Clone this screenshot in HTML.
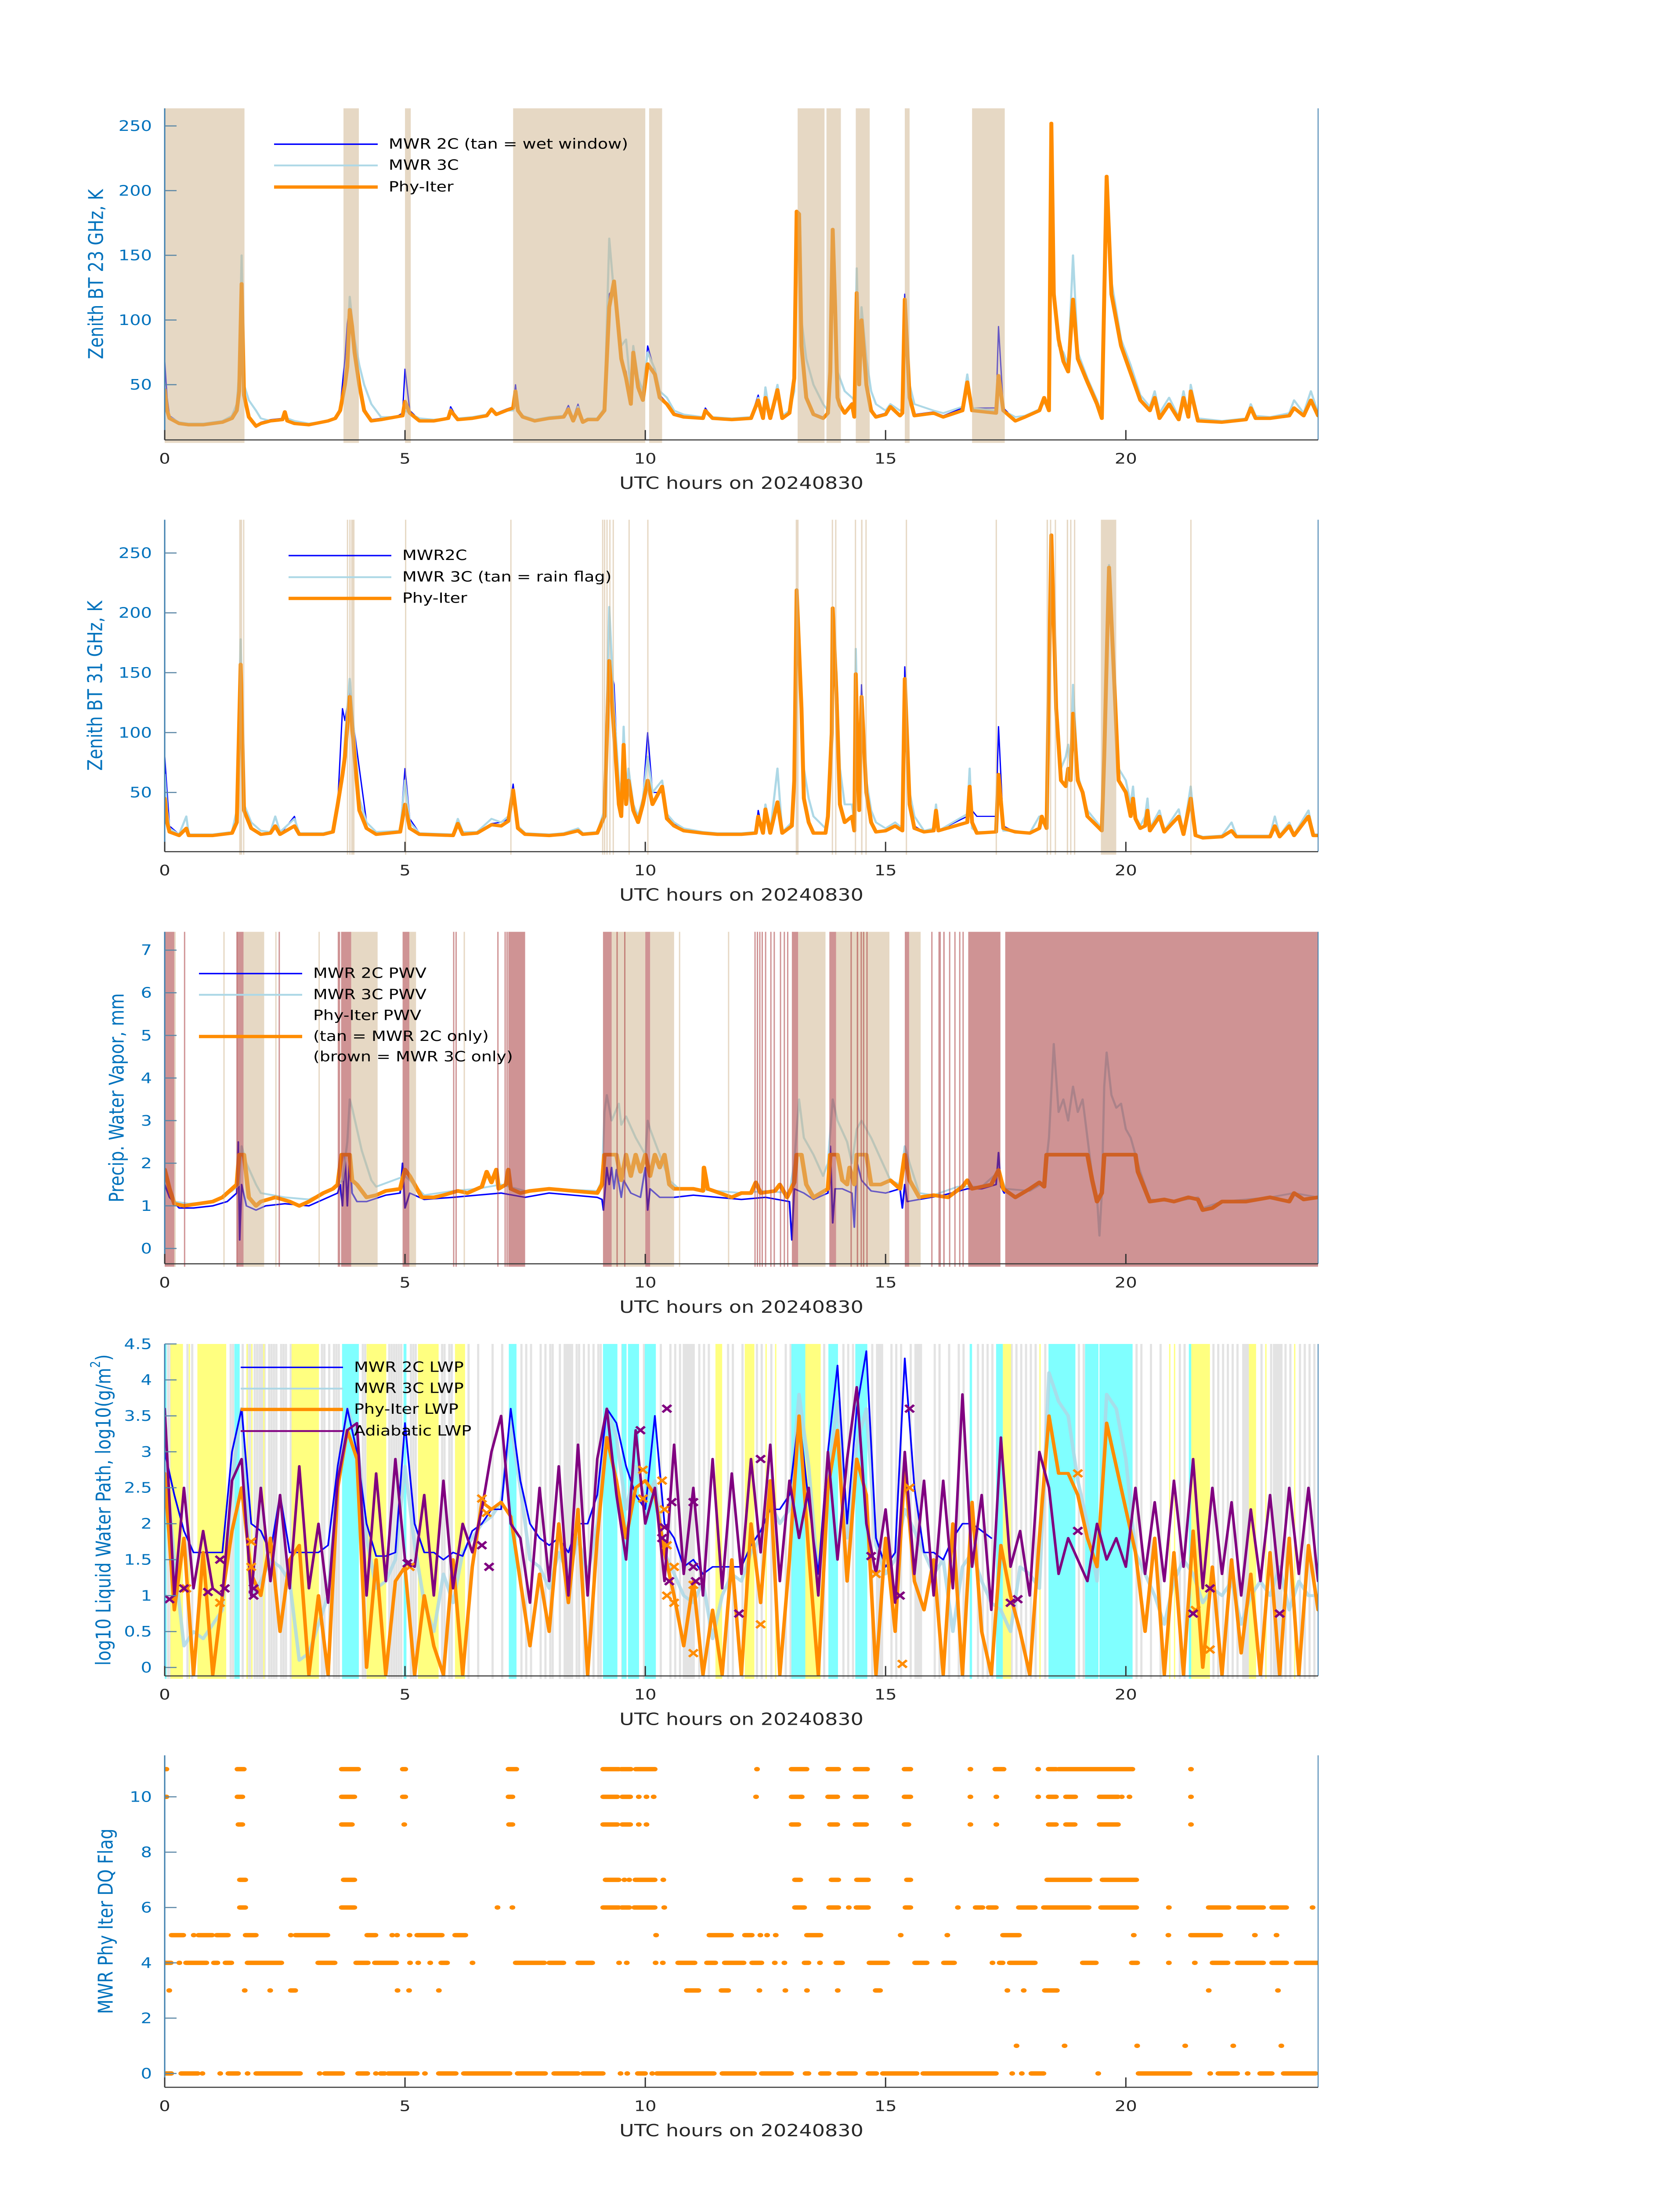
<!DOCTYPE html>
<html><head><meta charset="utf-8"><style>
html,body{margin:0;padding:0;background:#fff;overflow:hidden}
svg{display:block;width:100vw;height:100vh;font-family:"DejaVu Sans","Liberation Sans",sans-serif}
</style></head><body>
<svg id="fig" xmlns="http://www.w3.org/2000/svg" viewBox="0 0 3825 6000" preserveAspectRatio="none">
<rect x="0" y="0" width="3825" height="6000" fill="#fff"/>
</svg>
<script>
// ---------- Plot 1: 23 GHz ----------
const p1Time=[0,0.05,0.1,0.3,0.5,0.8,1.0,1.2,1.4,1.5, 1.55,1.6,1.65,1.75,1.9,2.0,2.2,2.45,2.5,2.55, 2.7,3.0,3.4,3.55,3.65,3.75,3.8,3.85,3.9,3.95, 4.05,4.15,4.3,4.5,4.8,4.95,5.0,5.1,5.3,5.6, 5.9,5.95,6.1,6.4,6.7,6.8,6.9,7.1,7.25,7.3, 7.35,7.45,7.7,8.0,8.3,8.4,8.5,8.6,8.7,8.8, 9.0,9.15,9.25,9.35,9.45,9.5,9.6,9.7,9.75,9.85, 9.95,10.05,10.2,10.3,10.45,10.6,10.8,11.2,11.25,11.4, 11.8,12.2,12.35,12.45,12.5,12.6,12.75,12.85,13.0,13.1, 13.15,13.2,13.25,13.35,13.5,13.7,13.8,13.85,13.9,13.95, 14.0,14.05,14.15,14.3,14.35,14.4,14.45,14.5,14.6,14.7, 14.8,15.0,15.1,15.3,15.35,15.4,15.5,15.6,16.0,16.2, 16.6,16.7,16.8,17.3,17.35,17.45,17.7,17.9,18.2,18.3, 18.4,18.45,18.5,18.6,18.7,18.8,18.9,19.0,19.2,19.4, 19.5,19.6,19.7,19.9,20.1,20.3,20.5,20.6,20.7,20.9, 21.1,21.2,21.3,21.35,21.5,22.0,22.5,22.6,22.7,23.0, 23.4,23.5,23.7,23.85,24];
const p1Phy=[46,30,24,20,19,19,20,21,24,30, 45,128,42,25,18,20,22,23,29,22, 20,19,22,24,30,50,64,108,95,75, 50,30,22,23,25,26,37,28,22,22, 24,30,23,24,26,31,27,30,32,45, 30,25,22,24,25,31,22,31,21,23, 23,30,110,130,90,70,55,35,75,48, 38,66,58,40,35,27,25,24,30,24, 23,24,38,24,40,24,46,24,28,55, 184,182,80,40,27,24,28,60,170,110, 40,34,28,35,25,121,50,100,50,30, 25,27,33,26,28,116,40,26,28,25, 30,52,30,28,57,30,22,25,30,40, 30,252,120,85,68,60,116,70,52,35, 24,211,120,80,59,38,30,40,24,35, 23,40,25,45,22,21,23,32,24,24, 26,32,26,38,26];
const p1Mwr3c=[40,30,25,21,20,20,21,22,26,35, 60,150,50,38,30,24,22,23,28,24, 22,20,22,24,30,48,75,118,100,85, 65,50,35,25,25,26,30,28,24,23, 24,31,24,25,27,32,28,30,30,38, 30,26,23,25,26,32,23,33,22,24, 24,32,163,120,95,80,85,45,80,55, 45,75,62,45,40,30,27,25,29,25, 24,25,40,26,48,25,50,26,30,45, 170,165,100,70,50,35,30,60,150,130, 60,55,45,40,38,140,60,110,70,45, 35,30,35,30,32,110,50,35,30,28, 33,58,32,30,50,30,25,26,31,36, 32,240,130,80,75,65,150,75,55,38, 26,205,130,85,65,42,33,45,28,40, 25,45,27,50,24,22,24,35,26,25, 28,38,28,45,28];
const p1Mwr2c=[68,40,26,21,20,20,21,22,25,31, 46,120,42,25,17,21,23,24,28,23, 21,20,22,25,32,70,97,112,100,80, 50,32,23,24,25,28,62,30,23,22, 25,33,23,25,27,32,28,31,33,50, 32,26,23,25,26,34,24,35,22,24, 24,32,120,125,100,70,60,40,70,45, 40,80,60,42,36,28,26,25,32,24, 23,25,42,25,40,25,50,25,30,55, 180,180,82,42,28,25,29,55,160,105, 42,36,29,36,26,120,55,95,52,32, 26,28,34,27,29,120,42,27,29,26, 32,55,32,32,95,32,23,25,30,40, 30,250,120,85,68,60,115,70,52,35, 24,210,120,80,59,38,30,40,24,35, 23,40,25,45,22,21,23,32,24,24, 26,32,26,38,26];
const p1WetWindow=[[0,1.66],[3.72,4.04],[5.0,5.12],[7.25,10.0],[10.08,10.35],[13.17,13.73],[13.77,14.07],[14.38,14.67],[15.4,15.5],[16.8,17.48]];
const p1Ticks=[50,100,150,200,250];

// ---------- Plot 2: 31 GHz ----------
const p2Time=[0,0.05,0.1,0.3,0.45,0.5,1.0,1.4,1.5,1.58, 1.65,1.8,2.0,2.2,2.3,2.4,2.7,2.8,3.3,3.5, 3.6,3.7,3.75,3.85,3.95,4.05,4.2,4.4,4.9,5.0, 5.1,5.3,6.0,6.1,6.2,6.5,6.8,7.0,7.15,7.25, 7.35,7.5,8.0,8.3,8.6,8.7,9.0,9.15,9.25,9.35, 9.45,9.5,9.55,9.6,9.65,9.75,9.85,9.95,10.05,10.15, 10.35,10.45,10.6,10.8,11.2,11.5,12.0,12.3,12.35,12.45, 12.5,12.6,12.75,12.85,13.05,13.1,13.15,13.25,13.3,13.4, 13.5,13.75,13.8,13.88,13.9,13.98,14.05,14.15,14.3,14.35, 14.38,14.45,14.5,14.6,14.7,14.8,15.0,15.2,15.35,15.4, 15.5,15.6,15.8,16.0,16.05,16.1,16.7,16.75,16.8,16.9, 17.3,17.35,17.45,17.7,18.0,18.2,18.25,18.35,18.45,18.55, 18.65,18.75,18.8,18.85,18.9,19.0,19.1,19.2,19.4,19.5, 19.55,19.65,19.75,19.85,20.0,20.1,20.15,20.2,20.3,20.4, 20.45,20.5,20.7,20.8,21.1,21.2,21.35,21.45,21.6,22.0, 22.2,22.3,23.0,23.1,23.2,23.4,23.5,23.8,23.9,24];
const p2Phy=[45,25,17,14,20,14,14,16,25,157, 35,20,15,16,22,15,22,15,15,17, 40,65,80,130,80,35,20,15,17,40, 20,15,14,24,15,16,23,22,26,52, 20,15,14,15,18,15,16,30,160,100, 40,30,90,40,60,35,25,40,60,40, 55,28,22,18,16,15,15,16,30,16, 36,16,42,16,22,60,219,120,45,25, 16,16,30,100,204,130,40,25,30,18, 149,35,130,50,25,17,18,22,18,145, 40,20,17,18,35,18,25,55,25,16, 17,65,20,17,16,20,30,20,265,120, 60,55,70,60,116,60,50,30,22,18, 80,238,150,60,50,30,45,28,20,22, 35,18,30,17,30,15,45,14,12,13, 18,13,13,22,13,22,14,30,14,14];
const p2Mwr3c=[65,35,20,15,30,15,15,17,35,178, 40,25,18,17,30,17,28,16,16,18, 38,60,95,145,95,45,25,17,18,60, 25,16,15,28,17,17,28,25,30,48, 22,16,15,16,20,16,17,35,205,120, 60,45,105,50,70,40,30,45,80,50, 60,32,25,20,17,16,16,17,30,17, 40,17,70,17,25,70,220,130,70,45, 30,20,35,120,180,150,70,40,40,25, 170,45,115,60,35,25,20,25,20,135, 50,30,18,20,40,18,32,70,20,17, 17,55,18,18,16,30,25,22,265,130, 70,80,90,70,140,65,50,35,25,20, 90,240,160,70,60,40,55,30,22,30, 45,20,35,18,36,16,55,15,13,14, 25,14,14,30,14,25,15,35,15,15];
const p2Mwr2c=[80,50,22,15,18,15,15,16,26,150, 35,20,15,16,22,15,30,15,15,17, 40,120,110,135,100,70,25,17,17,70, 28,16,15,25,16,17,24,25,28,57, 22,16,15,16,19,16,17,30,160,140, 45,35,75,45,65,40,28,45,100,50, 50,30,24,19,17,16,16,17,35,17, 38,16,42,16,22,60,215,120,45,25, 16,16,30,100,200,130,40,25,30,18, 150,35,140,52,27,18,18,22,18,155, 45,22,17,18,40,18,30,60,35,30, 30,105,22,17,16,20,30,20,265,120, 60,55,70,60,116,60,50,30,22,18, 80,238,150,60,50,30,45,28,20,22, 35,18,30,17,30,15,45,14,12,13, 18,13,13,22,13,22,14,30,14,14];
const p2RainFlag=[[1.55,1.61],[1.63,1.64],[3.79,3.8],[3.84,3.85],[3.88,3.95],[5.0,5.01],[7.19,7.2],[9.1,9.12],[9.14,9.16],[9.19,9.2],[9.25,9.27],[9.32,9.34],[9.65,9.66],[10.04,10.06],[13.13,13.19],[13.88,13.9],[13.95,13.97],[14.36,14.38],[14.49,14.52],[14.58,14.6],[15.42,15.44],[17.29,17.3],[18.35,18.38],[18.42,18.44],[18.52,18.54],[18.77,18.8],[18.84,18.86],[18.92,18.94],[19.48,19.8],[21.34,21.36]];
const p2Ticks=[50,100,150,200,250];

// ---------- Plot 3: PWV ----------
const p3Time=[0,0.1,0.2,0.4,0.7,1.0,1.2,1.4,1.5,1.55, 1.65,1.75,1.9,2.0,2.3,2.6,2.8,3.0,3.3,3.5, 3.6,3.68,3.85,3.9,4.0,4.2,4.4,4.6,4.9,5.0, 5.1,5.2,5.35,5.6,5.8,6.1,6.3,6.6,6.7,6.8, 6.9,6.95,7.1,7.15,7.2,7.4,7.6,8.0,8.5,9.0, 9.1,9.15,9.4,9.5,9.6,9.7,9.8,9.9,10.0,10.1, 10.2,10.3,10.4,10.5,10.6,11.0,11.2,11.22,11.3,11.8, 12.0,12.2,12.3,12.4,12.7,12.8,12.95,13.1,13.15,13.25, 13.35,13.5,13.8,13.85,14.0,14.1,14.2,14.25,14.35,14.4, 14.6,14.7,14.9,15.1,15.3,15.4,15.5,15.7,16.0,16.3, 16.6,16.7,16.8,17.0,17.2,17.35,17.45,17.7,18.0,18.2, 18.3,18.35,19.2,19.3,19.4,19.5,19.55,20.2,20.25,20.5, 20.8,21.0,21.3,21.5,21.6,21.8,22.0,22.5,23.0,23.4, 23.5,23.7,24];
const p3Phy=[1.85,1.4,1.05,1.0,1.05,1.1,1.2,1.4,1.5,2.2, 2.2,1.2,1.0,1.1,1.2,1.1,1.0,1.1,1.3,1.4, 1.5,2.2,2.2,1.6,1.5,1.2,1.25,1.35,1.4,1.85, 1.7,1.5,1.2,1.2,1.25,1.35,1.3,1.45,1.8,1.55, 1.85,1.4,1.5,1.85,1.4,1.3,1.35,1.4,1.35,1.3, 1.5,2.2,2.2,1.6,2.2,1.7,2.2,1.8,2.2,1.7, 2.2,1.9,2.2,1.5,1.4,1.4,1.35,1.9,1.4,1.2, 1.3,1.3,1.55,1.3,1.35,1.5,1.2,1.55,2.2,2.2, 1.5,1.2,1.4,2.2,2.2,1.6,1.5,1.9,1.5,2.2, 2.2,1.5,1.5,1.6,1.4,2.2,1.6,1.2,1.25,1.2, 1.45,1.6,1.4,1.45,1.5,1.84,1.4,1.2,1.4,1.55, 1.45,2.2,2.2,1.6,1.1,1.3,2.2,2.2,1.8,1.1, 1.15,1.1,1.2,1.15,0.9,0.95,1.1,1.1,1.2,1.1, 1.3,1.15,1.2];
const p3Time3c=[0,0.1,0.2,0.5,1.0,1.4,1.55,1.6,1.7,1.9, 2.0,2.5,3.0,3.5,3.7,3.8,3.85,3.9,4.1,4.3, 4.4,5.0,5.1,5.4,6.0,6.5,7.0,7.5,8.0,9.0, 9.1,9.15,9.2,9.3,9.45,9.5,9.6,9.8,10.0,10.05, 10.1,10.3,10.5,10.7,11.0,12.0,12.5,13.0,13.1,13.2, 13.3,13.5,13.7,13.8,13.9,14.0,14.2,14.3,14.4,14.5, 14.7,14.9,15.1,15.3,15.4,15.5,15.7,16.0,16.5,17.0, 17.35,17.5,18.0,18.3,18.4,18.5,18.6,18.7,18.8,18.9, 19.0,19.1,19.2,19.3,19.4,19.45,19.5,19.55,19.6,19.7, 19.8,19.9,20.0,20.1,20.2,20.3,20.5,21.0,21.5,21.6, 22.0,23.0,23.5,24];
const p3Mwr3c=[1.7,1.4,1.1,1.05,1.1,1.35,1.5,2.4,2.0,1.5, 1.3,1.2,1.15,1.4,1.6,2.5,3.5,3.3,2.3,1.6, 1.45,1.7,1.6,1.25,1.35,1.4,1.5,1.35,1.4,1.35, 1.6,3.2,3.6,3.0,3.4,2.9,3.1,2.6,2.2,3.0, 2.8,2.2,1.6,1.4,1.4,1.3,1.35,1.3,2.0,3.5, 2.6,2.2,1.7,2.0,3.5,3.0,2.5,2.0,2.8,3.0, 2.6,2.1,1.6,1.5,2.4,2.0,1.3,1.25,1.45,1.45, 1.8,1.4,1.35,1.55,2.6,4.8,3.2,3.5,3.0,3.8, 3.2,3.5,2.6,1.7,1.2,0.3,1.3,3.8,4.6,3.6, 3.3,3.4,2.8,2.6,2.2,1.8,1.15,1.1,1.2,0.95, 1.1,1.2,1.3,1.2];
const p3Time2c=[0,0.1,0.3,0.6,1.0,1.3,1.5,1.53,1.56,1.6, 1.7,1.9,2.1,2.5,3.0,3.4,3.6,3.65,3.7,3.75, 3.8,3.85,3.9,4.0,4.2,4.6,4.9,4.95,5.0,5.1, 5.4,6.0,6.5,7.0,7.5,8.0,8.5,9.0,9.1,9.13, 9.2,9.25,9.3,9.35,9.4,9.5,9.55,9.7,9.9,10.0, 10.05,10.1,10.3,10.6,11.0,12.0,12.5,13.0,13.05,13.1, 13.3,13.5,13.8,13.85,13.9,13.95,14.1,14.3,14.35,14.4, 14.5,14.7,15.0,15.3,15.35,15.4,15.45,15.7,16.2,16.7, 17.0,17.3,17.35,17.4,17.47];
const p3Mwr2c=[1.5,1.2,0.95,0.95,1.0,1.1,1.3,2.5,0.2,1.5, 1.0,0.9,1.0,1.05,1.0,1.2,1.3,1.5,1.0,2.2, 1.0,2.2,1.3,1.1,1.1,1.25,1.3,2.0,0.95,1.3, 1.15,1.2,1.25,1.3,1.2,1.3,1.25,1.2,1.15,0.9, 1.9,1.5,1.9,1.4,1.85,1.2,1.6,1.3,1.2,1.9, 0.9,1.4,1.2,1.2,1.25,1.15,1.2,1.1,0.2,1.4, 1.3,1.15,1.3,2.4,0.6,1.4,1.4,1.3,0.5,2.05, 1.6,1.35,1.3,1.4,0.95,1.5,1.1,1.15,1.25,1.4, 1.4,1.5,2.25,1.45,1.3];
const p3TanOnly2c=[[0.2,0.23],[1.22,1.23],[1.64,2.07],[2.3,2.31],[3.2,3.21],[3.88,4.43],[5.09,5.23],[6.22,6.23],[9.3,10.0],[10.1,10.6],[10.7,10.71],[11.72,11.73],[13.18,13.75],[13.97,15.08],[15.49,15.73]];
const p3BrownOnly3c=[[0,0.2],[0.4,0.41],[1.49,1.5],[1.51,1.64],[2.37,2.38],[3.6,3.65],[3.67,3.88],[4.95,5.09],[6.0,6.01],[6.05,6.06],[6.92,6.93],[7.07,7.08],[7.11,7.14],[7.15,7.5],[9.12,9.3],[9.4,9.42],[9.56,9.58],[10.0,10.1],[12.27,12.28],[12.32,12.33],[12.37,12.38],[12.42,12.43],[12.49,12.5],[12.6,12.61],[12.67,12.68],[12.8,12.81],[12.88,12.89],[12.95,12.96],[13.05,13.18],[13.83,13.97],[14.27,14.28],[14.4,14.43],[14.48,14.49],[14.53,14.54],[14.6,14.61],[15.4,15.49],[15.95,15.96],[16.1,16.15],[16.2,16.23],[16.32,16.33],[16.43,16.44],[16.53,16.54],[16.6,16.61],[16.72,17.39],[17.49,24]];
const p3Ticks=[0,1,2,3,4,5,6,7];

// ---------- Plot 4: LWP ----------
const p4Time=[0,0.2,0.4,0.6,0.8,1.0,1.2,1.4,1.6,1.8, 2.0,2.2,2.4,2.6,2.8,3.0,3.2,3.4,3.6,3.8, 4.0,4.2,4.4,4.6,4.8,5.0,5.2,5.4,5.6,5.8, 6.0,6.2,6.4,6.6,6.8,7.0,7.2,7.4,7.6,7.8, 8.0,8.2,8.4,8.6,8.8,9.0,9.2,9.4,9.6,9.8, 10.0,10.2,10.4,10.6,10.8,11.0,11.2,11.4,11.6,11.8, 12.0,12.2,12.4,12.6,12.8,13.0,13.2,13.4,13.6,13.8, 14.0,14.2,14.4,14.6,14.8,15.0,15.2,15.4,15.6,15.8, 16.0,16.2,16.4,16.6,16.8,17.0,17.2,17.4,17.6,17.8, 18.0,18.2,18.4,18.6,18.8,19.0,19.2,19.4,19.6,19.8, 20.0,20.2,20.4,20.6,20.8,21.0,21.2,21.4,21.6,21.8, 22.0,22.2,22.4,22.6,22.8,23.0,23.2,23.4,23.6,23.8, 24];
const p4Adiabatic=[3.6,1.0,2.5,1.1,1.9,1.1,1.0,2.6,2.9,1.0, 2.5,1.2,2.4,1.1,2.8,1.1,2.0,0.9,2.6,3.3, 3.4,1.0,2.7,1.2,2.9,1.5,1.4,2.4,1.0,2.6, 1.1,2.0,1.6,2.2,3.0,3.5,2.0,1.8,0.9,2.5, 1.2,2.8,1.0,3.1,1.0,2.9,3.6,2.4,1.5,3.3, 2.0,2.5,1.2,3.1,1.3,2.5,1.0,2.9,1.1,2.7, 1.3,2.9,1.6,3.1,1.2,2.6,1.8,2.5,1.0,3.0, 1.5,2.9,3.9,2.0,1.3,2.2,0.9,3.0,1.3,2.6, 1.0,2.6,1.1,3.8,1.4,2.4,0.8,3.2,1.4,1.9, 1.0,3.0,2.5,1.3,1.8,1.5,1.2,2.0,1.5,1.8, 1.4,2.5,1.3,2.3,1.2,2.6,1.4,2.9,1.1,2.5, 1.3,2.3,1.0,2.2,1.2,2.4,1.1,2.5,1.3,2.5, 1.2];
const p4Phy=[2.7,0.8,1.8,-0.1,1.6,-0.1,1.0,1.9,2.5,1.3, 1.0,1.8,0.5,1.5,1.7,-0.1,1.0,-0.1,2.5,3.3, 2.9,0.0,1.5,-0.1,1.2,1.4,-0.1,1.0,0.3,-0.1, 1.5,-0.1,1.4,2.3,2.2,2.3,2.1,1.2,0.3,1.3, 0.5,2.0,0.9,2.2,-0.1,1.8,3.2,2.6,1.8,2.5, 2.6,2.4,1.6,1.0,0.3,1.2,-0.1,0.8,-0.1,1.5, -0.1,2.0,0.9,2.6,-0.1,1.5,3.5,1.6,-0.1,2.5, 3.3,1.2,2.9,2.4,-0.1,1.8,0.5,2.8,1.2,0.8, 1.5,-0.1,2.0,-0.1,2.3,0.5,-0.1,1.7,1.0,0.5, -0.1,1.8,3.5,2.7,2.7,2.4,1.8,1.4,3.4,2.8, 2.2,1.6,0.5,1.8,-0.1,1.6,-0.1,1.9,0.0,1.4, -0.1,1.5,0.2,1.3,-0.1,1.6,-0.1,1.8,-0.1,1.7, 0.8];
const p4Mwr3c=[3.0,1.5,0.3,0.5,0.4,0.6,0.8,2.6,3.6,1.0, 1.2,1.5,1.4,1.2,0.1,0.2,0.6,1.0,2.6,3.6, 3.2,1.8,1.1,1.2,1.5,2.8,1.7,0.9,0.5,1.3, 0.9,1.6,1.8,2.0,2.1,2.3,3.4,2.5,1.5,1.4, 1.1,1.6,1.3,1.8,1.3,2.0,3.6,3.2,2.2,2.8, 2.3,2.6,1.6,1.3,1.0,0.9,1.2,0.4,1.0,1.3, 1.2,1.6,1.8,2.3,2.0,2.2,3.8,2.8,1.2,2.6, 3.7,1.8,3.1,3.6,1.7,1.3,1.5,2.2,1.9,1.6, 1.3,1.5,0.5,1.4,1.6,1.2,0.9,0.8,0.5,1.4, 1.3,1.1,4.1,3.7,3.5,2.6,2.0,1.2,3.8,3.6, 2.9,1.6,1.3,1.0,0.6,1.2,1.5,1.3,0.9,1.1, 1.0,1.2,0.6,1.0,1.2,1.0,1.4,0.8,1.2,1.0, 1.0];
const p4Mwr2c=[3.0,2.4,1.9,1.6,1.6,1.6,1.6,3.0,3.6,2.0, 1.9,1.6,2.4,1.6,1.6,1.6,1.6,1.7,2.8,3.6, 3.0,2.0,1.55,1.55,1.6,3.4,2.0,1.6,1.6,1.5, 1.6,1.55,1.9,2.0,2.2,2.2,3.6,2.6,2.0,1.8, 1.7,1.8,1.6,2.0,2.0,2.4,3.6,3.4,2.8,2.4, 2.2,3.5,2.0,1.8,1.4,1.5,1.3,1.4,1.4,1.4, 1.4,1.7,1.9,2.2,2.2,2.4,3.5,2.3,1.3,3.0, 4.2,2.0,3.6,4.4,1.8,1.4,1.6,4.3,2.5,1.6, 1.6,1.5,1.8,2.0,2.0,1.9,1.8];
const p4CyanBands=[[0,0.04],[1.45,1.56],[3.69,4.04],[4.97,5.03],[7.16,7.32],[9.12,9.42],[9.51,9.61],[9.64,9.87],[9.99,10.22],[13.04,13.33],[13.81,14.01],[14.37,14.62],[16.75,16.8],[17.3,17.44],[18.39,18.95],[19.15,19.43],[19.45,20.14],[21.31,21.36]];
const p4YellowBands=[[0.12,0.38],[0.68,1.28],[2.64,3.21],[4.2,4.61],[5.27,5.7],[6.04,6.25],[11.46,11.6],[12.07,12.27],[13.33,13.65],[17.44,17.61],[21.36,21.75],[22.56,22.71],[0.5,0.52],[1.7,1.72],[1.8,1.82],[2.05,2.07],[12.5,12.52],[12.7,12.72],[18.2,18.22],[20.9,20.92],[21.0,21.02],[22.9,22.92],[23.5,23.52]];
const p4GrayBands=[[10.78,11.03],[14.83,14.95],[15.6,15.76],[22.42,22.56],[23.06,23.26],[1.95,2.1],[4.3,4.5],[8.3,8.5]];
const p4GrayLines=[0.05,0.1,0.45,0.55,1.35,1.4,1.6,1.7,1.75,1.85,1.9,2.15,2.2,2.25,2.3,2.4,2.45,2.5,2.6,3.25,3.3,3.4,3.5,3.55,3.6,4.1,4.15,4.25,4.55,4.65,4.7,4.75,4.8,4.85,4.9,5.1,5.15,5.2,5.75,5.8,5.9,5.95,6.3,6.5,6.8,7.0,7.4,7.5,7.6,7.8,7.9,8.0,8.05,8.2,8.55,8.6,8.7,8.8,8.9,9.0,9.05,9.5,9.95,10.3,10.5,10.6,10.7,11.1,11.2,11.3,11.7,11.8,12.0,12.3,12.4,12.6,12.9,13.0,13.7,14.1,14.2,14.3,14.7,14.8,15.1,15.2,15.3,15.5,16.0,16.1,16.3,16.5,16.6,16.9,17.0,17.1,17.2,17.6,17.7,17.8,17.9,18.0,18.1,18.3,19.0,19.1,20.2,20.3,20.5,20.7,21.1,21.2,21.5,21.8,21.9,22.0,22.1,22.2,22.3,22.8,23.0,23.3,23.4,23.6,23.7,23.8,23.9];
const p4AdiabaticXTime=[0.1,0.4,0.9,1.15,1.25,1.85,1.85,5.05,6.6,6.75,9.9,10.35,10.4,10.45,10.5,10.55,11.0,11.0,11.05,11.95,12.4,14.7,15.3,15.5,17.6,17.75,19.0,21.4,21.75,23.2];
const p4AdiabaticXVal=[0.95,1.1,1.05,1.5,1.1,1.1,1.0,1.45,1.7,1.4,3.3,1.8,1.95,3.6,1.2,2.3,2.3,1.4,1.2,0.75,2.9,1.55,1.0,3.6,0.9,0.95,1.9,0.75,1.1,0.75];
const p4PhyXTime=[0.45,1.15,1.8,1.8,5.1,6.6,6.7,9.95,9.95,10.35,10.4,10.45,10.6,10.45,10.6,11.0,11.0,12.4,14.8,15.35,15.5,19.0,21.75,21.45];
const p4PhyXVal=[1.1,0.9,1.75,1.4,1.4,2.35,2.15,2.75,2.35,2.6,2.2,1.7,1.4,1.0,0.9,1.15,0.2,0.6,1.3,0.05,2.5,2.7,0.25,0.8];
const p4Ticks=[0,0.5,1,1.5,2,2.5,3,3.5,4,4.5];
const p4TickLabels=["0","0.5","1","1.5","2","2.5","3","3.5","4","4.5"];

// ---------- Plot 5: DQ flag runs [start,end] hours per flag ----------
const p5Flag11=[[0.02,0.04],[1.51,1.65],[3.68,4.03],[4.95,5.01],[7.15,7.32],[9.12,9.45],[9.5,9.7],[9.8,10.2],[12.32,12.33],[13.04,13.36],[13.8,14.02],[14.37,14.62],[15.39,15.52],[16.76,16.77],[17.28,17.46],[18.17,18.18],[18.39,18.55],[18.6,20.14],[21.35,21.36]];
const p5Flag10=[[0.02,0.04],[1.51,1.62],[3.68,3.95],[4.95,5.01],[7.15,7.24],[9.12,9.42],[9.52,9.69],[9.86,9.87],[10.02,10.03],[10.17,10.18],[12.3,12.31],[13.04,13.26],[13.8,14.0],[14.37,14.6],[15.39,15.52],[16.76,16.77],[17.3,17.31],[18.17,18.18],[18.39,18.55],[18.75,18.95],[19.45,19.84],[19.91,19.92],[20.07,20.08],[21.35,21.36]];
const p5Flag9=[[1.53,1.62],[3.68,3.9],[4.98,4.99],[7.16,7.24],[9.12,9.42],[9.52,9.69],[9.86,9.87],[10.02,10.03],[13.04,13.19],[13.84,14.0],[14.37,14.6],[15.39,15.48],[16.76,16.77],[17.3,17.31],[18.39,18.55],[18.75,18.94],[19.45,19.84],[21.35,21.36]];
const p5Flag7=[[1.56,1.68],[3.72,3.95],[9.17,9.45],[9.56,9.57],[9.66,9.67],[9.79,10.2],[10.37,10.38],[13.11,13.23],[13.87,14.02],[14.4,14.64],[15.44,15.52],[18.36,19.25],[19.51,20.22]];
const p5Flag6=[[1.56,1.68],[3.68,3.95],[6.92,6.93],[7.23,7.24],[9.12,9.45],[9.51,9.67],[9.77,10.2],[10.39,10.4],[13.11,13.31],[13.82,14.02],[14.23,14.24],[14.39,14.64],[15.41,15.52],[16.5,16.51],[16.87,17.02],[17.14,17.3],[17.77,18.11],[18.29,19.23],[19.48,20.22],[20.89,20.9],[21.72,22.14],[22.35,22.86],[23.04,23.34],[23.88,23.89]];
const p5Flag5=[[0.14,0.39],[0.6,0.61],[0.7,0.99],[1.08,1.32],[1.68,1.9],[2.62,2.63],[2.72,3.39],[4.21,4.39],[4.73,4.74],[4.83,4.84],[5.09,5.1],[5.25,5.77],[6.04,6.26],[10.22,10.23],[11.33,11.79],[12.07,12.22],[12.39,12.4],[12.53,12.54],[12.71,12.72],[13.36,13.65],[15.31,15.32],[16.28,16.29],[17.44,17.78],[20.16,20.17],[20.88,20.89],[21.35,21.97],[22.68,22.69],[23.13,23.14]];
const p5Flag4=[[0.02,0.13],[0.3,0.31],[0.44,0.87],[1.02,1.1],[1.26,1.39],[1.72,2.43],[3.19,3.54],[3.98,4.23],[4.37,4.82],[5.1,5.11],[5.27,5.28],[5.52,5.53],[5.75,5.88],[6.4,6.41],[7.3,7.9],[8.0,8.3],[8.6,8.9],[9.45,9.46],[9.61,9.62],[10.21,10.22],[10.36,10.37],[10.68,11.03],[11.28,11.46],[11.65,12.05],[12.22,12.42],[12.69,12.7],[12.89,12.9],[13.31,13.4],[13.63,13.64],[13.97,14.1],[14.66,15.04],[15.61,15.86],[16.21,16.43],[17.22,17.23],[17.37,17.44],[17.58,18.11],[19.1,19.38],[20.12,20.24],[20.89,20.9],[21.43,21.44],[21.8,22.12],[22.32,22.86],[23.04,23.34],[23.55,24.0]];
const p5Flag3=[[0.09,0.1],[1.66,1.67],[2.19,2.2],[2.62,2.72],[4.84,4.85],[5.08,5.09],[5.7,5.71],[10.86,11.11],[11.58,11.73],[12.37,12.38],[12.91,12.92],[13.36,13.37],[14.0,14.01],[14.79,14.89],[17.53,17.54],[17.87,17.88],[18.31,18.57],[21.72,21.73],[23.16,23.17]];
const p5Flag1=[[17.72,17.73],[18.72,18.73],[20.23,20.24],[21.23,21.24],[22.23,22.24],[23.23,23.24]];
const p5Flag0=[[0.03,0.14],[0.34,0.69],[0.78,0.79],[1.15,1.16],[1.32,1.53],[1.72,1.73],[1.9,2.82],[3.22,3.23],[3.33,3.7],[4.02,4.22],[4.39,4.4],[4.49,4.58],[4.65,5.25],[5.41,5.42],[5.7,6.06],[6.22,7.18],[7.34,7.92],[8.1,8.6],[8.7,9.12],[9.48,9.49],[9.62,9.63],[9.84,10.0],[10.14,10.15],[10.24,11.43],[11.6,12.27],[12.42,13.04],[13.33,13.4],[13.65,13.82],[14.03,14.37],[14.64,14.81],[14.94,15.65],[15.78,17.3],[17.63,17.64],[17.83,17.84],[18.03,18.29],[19.42,19.43],[20.26,21.33],[21.75,21.76],[21.92,22.32],[22.53,22.54],[22.79,23.04],[23.28,23.95]];
const p5FlagLevels=[11,10,9,7,6,5,4,3,1,0];
const p5Ticks=[0,2,4,6,8,10];

// ================= drawing =================
const NS="http://www.w3.org/2000/svg";
const svg=document.getElementById('fig');
const X0=375,X1=3001;
function xs(h){return X0+(h/24)*(X1-X0);}
function el(tag,attrs,parent){const e=document.createElementNS(NS,tag);for(const k in attrs)e.setAttribute(k,attrs[k]);(parent||svg).appendChild(e);return e;}
function yScale(top,bot,vmin,vmax){return v=>bot-(v-vmin)/(vmax-vmin)*(bot-top);}
const defs=el('defs',{});
let clipN=0;
function makeGroup(name,top,bot){
  const g=el('g',{});
  
  
  const id='clip'+(clipN++);
  const cp=el('clipPath',{id:id},defs);
  el('rect',{x:X0,y:top,width:X1-X0,height:bot-top+8},cp);
  const inner=el('g',{'clip-path':'url(#'+id+')'},g);
  return {g,inner};
}
function bands(parent,list,fill,name){
  const g=el('g',{},parent);
  
  
  list.forEach(b=>{
    const r=el('rect',{x:xs(b[0]),y:0,width:Math.max(3,xs(b[1])-xs(b[0])),height:6000,fill:fill},g);
    
    
  });
  return g;
}
function line(parent,ts,vs,ys,color,w,name,opacity){
  let d='';let pen=false;
  const n=Math.min(ts.length,vs.length);
  for(let i=0;i<n;i++){
    if(vs[i]===null||vs[i]===undefined){pen=false;continue;}
    d+=(pen?'L':'M')+xs(ts[i]).toFixed(1)+' '+ys(vs[i]).toFixed(1);pen=true;
  }
  const p=el('path',{d:d,fill:'none',stroke:color,'stroke-width':w,'stroke-linejoin':'round','stroke-linecap':'round',opacity:opacity||1},parent);
  
  
  return p;
}
function axes(g,top,bot,ys,ticks,labels,ylabel,ylabelX,name){
  const ax=el('line',{x1:X0,y1:top,x2:X0,y2:bot,stroke:'#3f7fae','stroke-width':3},g);
  
  
  const rx=el('line',{x1:X1,y1:top,x2:X1,y2:bot,stroke:'#3f7fae','stroke-width':2},g);
  
  
  const bx=el('line',{x1:X0,y1:bot,x2:X1,y2:bot,stroke:'#3a3a3a','stroke-width':3},g);
  
  
  ticks.forEach((v,i)=>{
    el('line',{x1:X0,y1:ys(v),x2:X0+27,y2:ys(v),stroke:'#5b87a6','stroke-width':3},g);
    const t=el('text',{x:346,y:ys(v),'text-anchor':'end','dominant-baseline':'central','font-size':40,fill:'#0072BD'},g);
    t.textContent=labels?labels[i]:String(v);
    
    
  });
  [0,5,10,15,20].forEach(h=>{
    el('line',{x1:xs(h),y1:bot,x2:xs(h),y2:bot-27,stroke:'#333','stroke-width':3},g);
    const t=el('text',{x:xs(h),y:bot+51,'text-anchor':'middle','dominant-baseline':'central','font-size':40,fill:'#262626'},g);
    t.textContent=String(h);
    
    
  });
  const xl=el('text',{x:(X0+X1)/2,y:bot+118,'text-anchor':'middle','dominant-baseline':'central','font-size':46,fill:'#262626'},g);
  xl.textContent='UTC hours on 20240830';
  
  
  const cy=(top+bot)/2;
  const yl=el('text',{x:ylabelX,y:cy,'text-anchor':'middle','dominant-baseline':'central','font-size':46,fill:'#0072BD',transform:'rotate(-90 '+ylabelX+' '+cy+')'},g);
  if(typeof ylabel==='string'){yl.textContent=ylabel;}
  else{
    const a=el('tspan',{},yl);a.textContent=ylabel[0];
    const s=el('tspan',{'baseline-shift':'super','font-size':30},yl);s.textContent=ylabel[1];
    const c=el('tspan',{},yl);c.textContent=ylabel[2];
  }
  
  
}
function legend(g,lx1,lx2,tx,rows,name){
  const lg=el('g',{},g);
  
  
  rows.forEach(r=>{
    if(r.color){
      const l=el('line',{x1:lx1,y1:r.ly,x2:lx2,y2:r.ly,stroke:r.color,'stroke-width':r.w},lg);
      
      
    }
    if(r.text){
      const t=el('text',{x:tx,y:r.ty,'dominant-baseline':'central','font-size':38,fill:'#000'},lg);
      t.textContent=r.text;
      
      
    }
  });
}
const TAN='rgba(205,178,137,0.5)',BROWN='rgba(170,62,64,0.56)';

// ---- Plot 1 ----
(function(){
  const top=296,bot=1202,ys=yScale(top,bot,7.3,263.6);
  const {g,inner}=makeGroup('plot-23ghz',top,bot);
  line(inner,p1Time,p1Mwr2c,ys,'#0000ff',3,'mwr2c-23ghz-line');
  line(inner,p1Time,p1Mwr3c,ys,'#add8e6',5,'mwr3c-23ghz-line');
  line(inner,p1Time,p1Phy,ys,'#ff8c00',9,'phy-iter-23ghz-line');
  bands(inner,p1WetWindow,TAN,'wet-window');
  axes(g,top,bot,ys,p1Ticks,null,'Zenith BT 23 GHz, K',219,'plot1');
  legend(g,624,860,885,[{color:'#0000ff',w:4,ly:394,text:'MWR 2C (tan = wet window)',ty:394},{color:'#add8e6',w:5,ly:452,text:'MWR 3C',ty:452},{color:'#ff8c00',w:9,ly:511,text:'Phy-Iter',ty:511}],'plot1');
})();
// ---- Plot 2 ----
(function(){
  const top=1420,bot=2327,ys=yScale(top,bot,0.5,277.8);
  const {g,inner}=makeGroup('plot-31ghz',top,bot);
  line(inner,p2Time,p2Mwr2c,ys,'#0000ff',3,'mwr2c-31ghz-line');
  line(inner,p2Time,p2Mwr3c,ys,'#add8e6',5,'mwr3c-31ghz-line');
  line(inner,p2Time,p2Phy,ys,'#ff8c00',9,'phy-iter-31ghz-line');
  bands(inner,p2RainFlag,TAN,'rain-flag');
  axes(g,top,bot,ys,p2Ticks,null,'Zenith BT 31 GHz, K',217,'plot2');
  legend(g,657,891,916,[{color:'#0000ff',w:4,ly:1518,text:'MWR2C',ty:1518},{color:'#add8e6',w:5,ly:1577,text:'MWR 3C (tan = rain flag)',ty:1577},{color:'#ff8c00',w:9,ly:1635,text:'Phy-Iter',ty:1635}],'plot2');
})();
// ---- Plot 3 ----
(function(){
  const top=2546,bot=3453,ys=yScale(top,bot,-0.36,7.43);
  const {g,inner}=makeGroup('plot-pwv',top,bot);
  line(inner,p3Time2c,p3Mwr2c,ys,'#0000ff',4,'mwr2c-pwv-line');
  line(inner,p3Time3c,p3Mwr3c,ys,'#add8e6',5,'mwr3c-pwv-line');
  line(inner,p3Time,p3Phy,ys,'#ff8c00',10,'phy-iter-pwv-line');
  bands(inner,p3TanOnly2c,TAN,'mwr2c-only');
  bands(inner,p3BrownOnly3c,BROWN,'mwr3c-only');
  axes(g,top,bot,ys,p3Ticks,null,'Precip. Water Vapor, mm',266,'plot3');
  legend(g,453,688,713,[{color:'#0000ff',w:4,ly:2660,text:'MWR 2C PWV',ty:2660},{color:'#add8e6',w:5,ly:2718,text:'MWR 3C PWV',ty:2718},{text:'Phy-Iter PWV',ty:2775},{color:'#ff8c00',w:9,ly:2832,text:'(tan = MWR 2C only)',ty:2832},{text:'(brown = MWR 3C only)',ty:2888}],'plot3');
})();
// ---- Plot 4 ----
(function(){
  const top=3672,bot=4579,ys=yScale(top,bot,-0.117,4.5);
  const {g,inner}=makeGroup('plot-lwp',top,bot);
  const gl=el('g',{},inner);
  
  
  p4GrayLines.forEach(h=>{
    const r=el('rect',{x:xs(h),y:top,width:5,height:bot-top+8,fill:'#e3e3e3'},gl);
    
    
  });
  bands(inner,p4GrayBands,'#e3e3e3','lwp-gray-block');
  bands(inner,p4YellowBands,'#ffff80','lwp-yellow');
  bands(inner,p4CyanBands,'#80ffff','lwp-cyan');
  line(inner,p4Time,p4Mwr3c,ys,'#add8e6',8,'mwr3c-lwp-line',0.85);
  line(inner,p4Time,p4Mwr2c,ys,'#0000ff',4,'mwr2c-lwp-line');
  line(inner,p4Time,p4Phy,ys,'#ff8c00',8,'phy-iter-lwp-line');
  line(inner,p4Time,p4Adiabatic,ys,'#800080',6,'adiabatic-lwp-line');
  function xmark(h,v,color,nm){
    const x=xs(h),y=ys(v),s=10;
    const p=el('path',{d:`M${x-s} ${y-s}L${x+s} ${y+s}M${x-s} ${y+s}L${x+s} ${y-s}`,stroke:color,'stroke-width':6,fill:'none'},inner);
    
    
  }
  p4PhyXTime.forEach((h,i)=>xmark(h,p4PhyXVal[i],'#ff8c00','phy-iter-lwp-marker'));
  p4AdiabaticXTime.forEach((h,i)=>xmark(h,p4AdiabaticXVal[i],'#800080','adiabatic-lwp-marker'));
  axes(g,top,bot,ys,p4Ticks,p4TickLabels,['log10 Liquid Water Path, log10(g/m','2',')'],235,'plot4');
  legend(g,548,781,806,[{color:'#0000ff',w:4,ly:3736,text:'MWR 2C LWP',ty:3736},{color:'#add8e6',w:5,ly:3794,text:'MWR 3C LWP',ty:3794},{color:'#ff8c00',w:9,ly:3851,text:'Phy-Iter LWP',ty:3851},{color:'#800080',w:5,ly:3910,text:'Adiabatic LWP',ty:3910}],'plot4');
})();
// ---- Plot 5 ----
(function(){
  const top=4796,bot=5703,ys=yScale(top,bot,-0.5,11.5);
  const {g,inner}=makeGroup('plot-dq-flag',top,bot);
  const runs=[p5Flag11,p5Flag10,p5Flag9,p5Flag7,p5Flag6,p5Flag5,p5Flag4,p5Flag3,p5Flag1,p5Flag0];
  runs.forEach((list,k)=>{
    const lev=p5FlagLevels[k];
    const gg=el('g',{},inner);
    
    
    list.forEach(r=>{
      const l=el('line',{x1:xs(r[0]),y1:ys(lev),x2:xs(r[1]),y2:ys(lev),stroke:'#ff8c00','stroke-width':12,'stroke-linecap':'round'},gg);
      
      
    });
  });
  axes(g,top,bot,ys,p5Ticks,null,'MWR Phy Iter DQ Flag',241,'plot5');
})();
</script>
</body></html>
